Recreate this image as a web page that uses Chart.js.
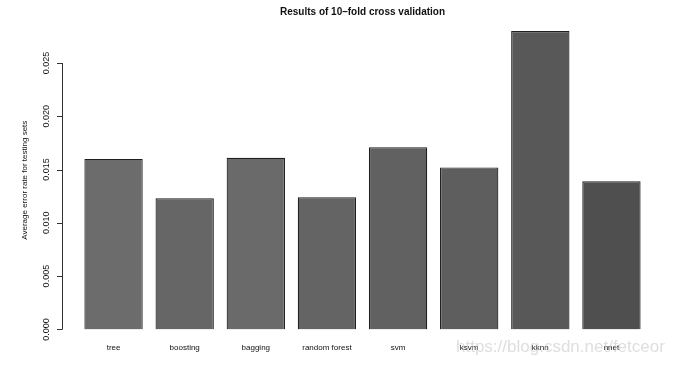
<!DOCTYPE html>
<html>
<head>
<meta charset="utf-8">
<script src="https://cdn.jsdelivr.net/npm/chart.js@4"></script>
<style>
  html, body { margin: 0; padding: 0; background: #fff; }
  #wrap { width: 677px; height: 367px; }
</style>
</head>
<body>
<div id="wrap"><canvas id="chart" width="677" height="367"></canvas></div>
<script>
const methods = ["tree", "boosting", "bagging", "random forest", "svm", "ksvm", "kknn", "nnet"];
const errorRates = [0.0160, 0.0123, 0.0161, 0.0124, 0.0171, 0.0152, 0.0280, 0.0139];
const barColors = ["#6c6c6c", "#666666", "#6a6a6a", "#646464", "#616161", "#5e5e5e", "#585858", "#4f4f4f"];
const yTicks = [0.000, 0.005, 0.010, 0.015, 0.020, 0.025];

// R-style y axis: offset line, outward ticks, rotated labels
const rAxis = {
  id: "rAxis",
  afterDraw(chart) {
    const ctx = chart.ctx;
    const y = chart.scales.y;
    const axisX = 62;
    ctx.save();
    ctx.strokeStyle = "#333";
    ctx.lineWidth = 1;
    ctx.beginPath();
    ctx.moveTo(axisX + 0.5, y.getPixelForValue(yTicks[0]));
    ctx.lineTo(axisX + 0.5, y.getPixelForValue(yTicks[yTicks.length - 1]));
    yTicks.forEach((v) => {
      const py = Math.round(y.getPixelForValue(v)) + 0.5;
      ctx.moveTo(axisX + 0.5, py);
      ctx.lineTo(axisX - 5, py);
    });
    ctx.stroke();

    ctx.fillStyle = "#111";
    ctx.font = "9px 'Liberation Sans', Arial, sans-serif";
    ctx.textAlign = "center";
    ctx.textBaseline = "middle";
    yTicks.forEach((v) => {
      ctx.save();
      ctx.translate(47, y.getPixelForValue(v));
      ctx.rotate(-Math.PI / 2);
      ctx.fillText(v.toFixed(3), 0, 0);
      ctx.restore();
    });

    ctx.font = "8px 'Liberation Sans', Arial, sans-serif";
    ctx.save();
    ctx.translate(25, (chart.chartArea.top + chart.chartArea.bottom) / 2);
    ctx.rotate(-Math.PI / 2);
    ctx.fillText("Average error rate for testing sets", 0, 0);
    ctx.restore();

    // faint watermark from the source image
    ctx.fillStyle = "rgba(190,190,190,0.5)";
    ctx.font = "17px 'Liberation Sans', Arial, sans-serif";
    ctx.textAlign = "left";
    ctx.fillText("https://blog.csdn.net/fetceor", 456, 347);
    ctx.restore();
  }
};

new Chart(document.getElementById("chart"), {
  type: "bar",
  data: {
    labels: methods,
    datasets: [{
      data: errorRates,
      backgroundColor: barColors,
      borderColor: "#1e1e1e",
      borderWidth: 1.2,
      categoryPercentage: 1,
      barPercentage: 0.82
    }]
  },
  options: {
    responsive: false,
    animation: false,
    layout: { padding: { left: 78, right: 30, top: 0, bottom: 0 } },
    plugins: {
      legend: { display: false },
      tooltip: { enabled: false },
      title: {
        display: true,
        text: "Results of 10\u2013fold cross validation",
        color: "#111",
        font: { family: "'Liberation Sans', Arial, sans-serif", size: 10, weight: "bold" },
        padding: { top: 6, bottom: 13 }
      }
    },
    scales: {
      x: {
        grid: { display: false, drawTicks: false },
        border: { display: false },
        ticks: {
          color: "#111",
          padding: 14,
          maxRotation: 0,
          autoSkip: false,
          font: { family: "'Liberation Sans', Arial, sans-serif", size: 8 }
        }
      },
      y: {
        display: false,
        min: 0,
        max: 0.028
      }
    }
  },
  plugins: [rAxis]
});
</script>
</body>
</html>
